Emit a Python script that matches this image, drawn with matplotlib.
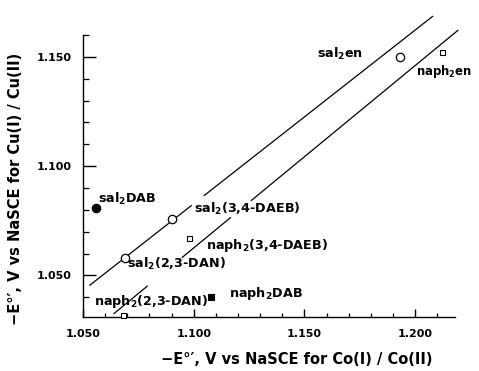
import matplotlib
matplotlib.use("Agg")
import matplotlib.pyplot as plt
import numpy as np

plt.rcParams['font.family'] = ['DejaVu Sans']
plt.rcParams['mathtext.default'] = 'regular'

# Data: (Co(I)/Co(II), Cu(I)/Cu(II)) potentials
names = ["sal$_2$en", "naph$_2$en", "sal$_2$DAB", "sal$_2$(3,4-DAEB)",
         "naph$_2$(3,4-DAEB)", "sal$_2$(2,3-DAN)", "naph$_2$DAB", "naph$_2$(2,3-DAN)"]
co_vals = [1.193, 1.212, 1.056, 1.090, 1.098, 1.069, 1.108, 1.068]
cu_vals = [1.150, 1.152, 1.081, 1.076, 1.067, 1.058, 1.040, 1.032]
kinds = ["open_circle", "open_square", "filled_circle", "open_circle",
         "open_square", "open_circle", "filled_square", "open_square"]

# label anchor points (data coords)
label_x = [1.1555, 1.2005, 1.0566, 1.100, 1.1054, 1.0697, 1.1158, 1.0548]
label_y = [1.1514, 1.1432, 1.085, 1.0804, 1.0635, 1.0553, 1.0416, 1.0381]

# correlation lines: endpoints and gaps (x ranges)
line_sal_x = [1.0529, 1.2081]
line_sal_y = [1.0454, 1.1687]
line_sal_gaps = [(1.0991, 1.1045)]
line_naph_x = [1.0638, 1.2195]
line_naph_y = [1.0324, 1.1623]
line_naph_gaps = [(1.0792, 1.0946), (1.1168, 1.1258)]

fig = plt.figure(figsize=(4.79, 3.71), dpi=100)
ax = fig.add_axes([0.1733, 0.1456, 0.9500 - 0.1733, 0.9057 - 0.1456])

def draw_line(xs, ys, gaps):
    x0, x1 = xs
    y0, y1 = ys
    slope = (y1 - y0) / (x1 - x0)
    bounds = [x0]
    for g in gaps:
        bounds += [g[0], g[1]]
    bounds.append(x1)
    for i in range(0, len(bounds), 2):
        a, b = bounds[i], bounds[i + 1]
        ax.plot([a, b], [y0 + slope * (a - x0), y0 + slope * (b - x0)],
                color='black', lw=0.9, clip_on=False, zorder=2,
                solid_capstyle='butt')

draw_line(line_sal_x, line_sal_y, line_sal_gaps)
draw_line(line_naph_x, line_naph_y, line_naph_gaps)

style = {
    "open_circle": dict(marker='o', ms=6, mfc='white', mec='black', mew=0.9),
    "filled_circle": dict(marker='o', ms=6, mfc='black', mec='black', mew=0.9),
    "open_square": dict(marker='s', ms=3.6, mfc='white', mec='black', mew=0.8),
    "filled_square": dict(marker='s', ms=4, mfc='black', mec='black', mew=0.8),
}
for x, y, k in zip(co_vals, cu_vals, kinds):
    ax.plot([x], [y], linestyle='none', zorder=3, clip_on=False, **style[k])

label_sizes = [9.2, 8.4, 9.2, 9.2, 9.2, 9.2, 9.2, 9.2]
for n, lx, ly, fs in zip(names, label_x, label_y, label_sizes):
    ax.text(lx, ly, n, ha='left', va='center', fontsize=fs, fontweight='bold',
            zorder=4)

ax.set_xlim(1.050, 1.218)
ax.set_ylim(1.031, 1.1595)
ax.spines['top'].set_visible(False)
ax.spines['right'].set_visible(False)
for s in ['left', 'bottom']:
    ax.spines[s].set_linewidth(1.0)

xt = [1.050, 1.100, 1.150, 1.200]
yt = [1.050, 1.100, 1.150]
ax.set_xticks(xt)
ax.set_xticklabels(["1.050", "1.100", "1.150", "1.200"])
ax.set_yticks(yt)
ax.set_yticklabels(["1.050", "1.100", "1.150"])
ax.set_xticks(np.arange(1.06, 1.215, 0.01), minor=True)
ax.set_yticks(np.arange(1.04, 1.165, 0.01), minor=True)
ax.tick_params(axis='x', which='major', direction='in', length=6, width=1.0,
               labelsize=8, pad=9)
ax.tick_params(axis='x', which='minor', direction='in', length=3, width=0.9)
ax.tick_params(axis='y', which='major', direction='in', length=9, width=1.0,
               labelsize=8, pad=8)
ax.tick_params(axis='y', which='minor', direction='in', length=4, width=0.9)
for lab in ax.get_xticklabels() + ax.get_yticklabels():
    lab.set_fontweight('bold')

fig.text(0.62, 0.03, "\u2212E\u00b0\u2032, V vs NaSCE for Co(I) / Co(II)",
         ha='center', va='center', fontsize=10.5, fontweight='bold')
fig.text(0.032, 0.49, "\u2212E\u00b0\u2032, V vs NaSCE for Cu(I) / Cu(II)",
         ha='center', va='center', fontsize=10.5, fontweight='bold', rotation=90)

fig.savefig("out.png", dpi=100)
